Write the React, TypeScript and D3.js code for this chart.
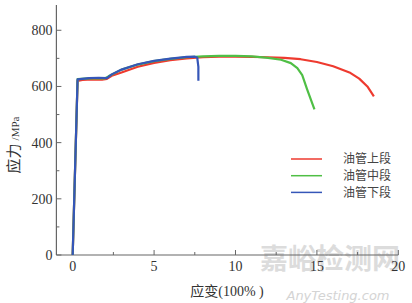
import React from "react";
import * as d3 from "d3";

const seriesNames = ["油管上段", "油管中段", "油管下段"];
const seriesColors = ["#ee3a2f", "#4fbf45", "#3556b8"];

const redStrain = [0, 0.3, 0.6, 1.2, 1.8, 2.1, 2.4, 3, 4, 5, 6, 7, 8, 9, 10, 11, 12, 13, 14, 15, 16, 17, 17.6, 18.1, 18.5];
const redStress = [0, 620, 623, 625, 624, 627, 638, 650, 670, 684, 694, 700, 704, 706, 706, 705, 704, 702, 697, 687, 672, 650, 628, 600, 565];

const greenStrain = [0, 0.3, 1, 2, 2.2, 3, 4, 5, 6, 7, 8, 9, 10, 11, 12, 12.8, 13.4, 13.8, 14.1, 14.4, 14.85];
const greenStress = [0, 626, 629, 629, 636, 660, 678, 690, 698, 704, 707, 709, 709, 707, 702, 695, 683, 665, 640, 590, 518];

const blueStrain = [0, 0.3, 1, 1.6, 2.1, 2.4, 3, 4, 5, 6, 7, 7.5, 7.65, 7.72, 7.72];
const blueStress = [0, 625, 630, 631, 630, 643, 660, 679, 691, 699, 705, 706, 703, 670, 620];

const xTicks = [0, 5, 10, 15, 20];
const xMinor = [2.5, 7.5, 12.5, 17.5];
const yTicks = [0, 200, 400, 600, 800];
const yMinor = [100, 300, 500, 700];

export default function App() {
  const W = 412, H = 303;
  const x = d3.scaleLinear().domain([-1, 20]).range([56.4, 398.3]);
  const y = d3.scaleLinear().domain([0, 890]).range([255, 5]);
  const line = d3.line<[number, number]>().x(d => x(d[0])).y(d => y(d[1]));
  const series = [
    redStrain.map((s, i) => [s, redStress[i]] as [number, number]),
    greenStrain.map((s, i) => [s, greenStress[i]] as [number, number]),
    blueStrain.map((s, i) => [s, blueStress[i]] as [number, number]),
  ];
  const axisColor = "#666";
  const textColor = "#333";
  const serif = "'Liberation Serif', 'Times New Roman', serif";
  const cjk = "'Noto Sans CJK SC', sans-serif";
  return (
    <svg width={W} height={H} style={{ position: "absolute", left: 0, top: 0 }}>
      <rect width={W} height={H} fill="#fff" />
      {/* watermark */}
      <text x={330} y={269} textAnchor="middle" fontFamily={cjk} fontSize={28} fill="#dcdcdc" fontWeight={700}>嘉峪检测网</text>
      <text x={338} y={300} textAnchor="middle" fontFamily="'DejaVu Sans', sans-serif" fontStyle="italic" fontSize={13} fill="#d4d4d4">AnyTesting.com</text>
      {/* axes */}
      <line x1={x(-1)} x2={x(-1)} y1={y(0)} y2={5} stroke={axisColor} strokeWidth={1.2} />
      <line x1={x(-1)} x2={x(20)} y1={y(0)} y2={y(0)} stroke={axisColor} strokeWidth={1.2} />
      {yTicks.map(t => (
        <g key={"yt" + t}>
          <line x1={x(-1)} x2={x(-1) + 5} y1={y(t)} y2={y(t)} stroke={axisColor} />
          <text x={x(-1) - 4} y={y(t)} dy="0.35em" textAnchor="end" fontFamily={serif} fontSize={14} fill={textColor}>{t}</text>
        </g>
      ))}
      {yMinor.map(t => (
        <line key={"ym" + t} x1={x(-1)} x2={x(-1) + 3} y1={y(t)} y2={y(t)} stroke={axisColor} />
      ))}
      {xTicks.map(t => (
        <g key={"xt" + t}>
          <line x1={x(t)} x2={x(t)} y1={y(0)} y2={y(0) - 5} stroke={axisColor} />
          <text x={x(t)} y={y(0) + 16} textAnchor="middle" fontFamily={serif} fontSize={14} fill={textColor}>{t}</text>
        </g>
      ))}
      {xMinor.map(t => (
        <line key={"xm" + t} x1={x(t)} x2={x(t)} y1={y(0)} y2={y(0) - 3} stroke={axisColor} />
      ))}
      {/* axis titles */}
      <text transform={`translate(19,${145}) rotate(-90)`} textAnchor="middle" fill={textColor}>
        <tspan fontFamily={cjk} fontSize={15}>应力</tspan>
        <tspan fontFamily={serif} fontSize={11} dx={3}>/MPa</tspan>
      </text>
      <text x={227} y={296} textAnchor="middle" fill={textColor}>
        <tspan fontFamily={cjk} fontSize={14}>应变</tspan>
        <tspan fontFamily={serif} fontSize={14}>(100% )</tspan>
      </text>
      {/* series */}
      {series.map((d, i) => (
        <path key={"s" + i} d={line(d) || ""} fill="none" stroke={seriesColors[i]} strokeWidth={2.2} strokeLinejoin="round" />
      ))}
      {/* legend */}
      {seriesNames.map((n, i) => (
        <g key={"lg" + i}>
          <line x1={291} x2={322} y1={159 + i * 16.7} y2={159 + i * 16.7} stroke={seriesColors[i]} strokeWidth={1.5} />
          <text x={343} y={159 + i * 16.7} dy="0.35em" fontFamily={cjk} fontSize={12} fill="#444">{n}</text>
        </g>
      ))}
    </svg>
  );
}
